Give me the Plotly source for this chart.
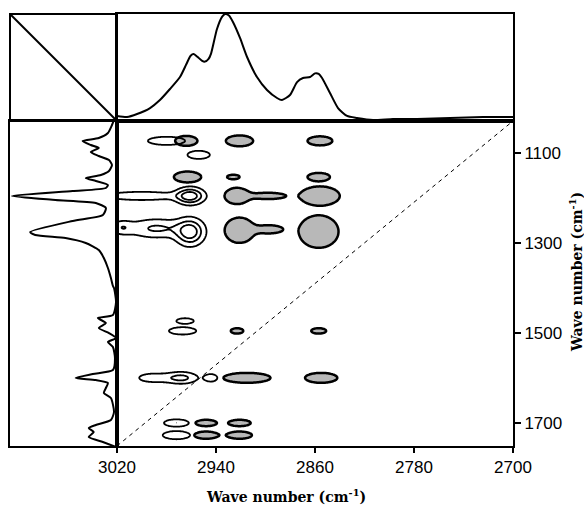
import numpy as np
import plotly.graph_objects as go

W, H = 584, 506

# ---------------- axes ----------------
x_range = [3020, 2700]
y_range = [1750, 1030]          # 1030 at the top
x_ticks = [3020, 2940, 2860, 2780, 2700]
y_ticks = [1100, 1300, 1500, 1700]

# ---------------- top spectrum ----------------
top_wn = [3020, 3011.9, 3003.8, 2993.3, 2985.3, 2977.2, 2969.1, 2964.0, 2960.5, 2958.0,
          2955.0, 2951.5, 2948.9, 2946.0, 2944.0, 2939.2, 2935.0, 2932.7, 2929.5, 2926.3,
          2920.6, 2914.9, 2906.9, 2898.8, 2890.7, 2886.7, 2880.2, 2874.5, 2869.7, 2864.0,
          2860.0, 2857.0, 2854.3, 2847.9, 2841.4, 2834.1, 2826.1, 2813.1, 2797.0, 2777.6,
          2750.9, 2724.2, 2700]
top_abs = [0.047, 0.037, 0.065, 0.121, 0.196, 0.299, 0.411, 0.530, 0.610, 0.626,
           0.600, 0.565, 0.555, 0.580, 0.630, 0.860, 0.975, 1.000, 0.985, 0.925,
           0.776, 0.598, 0.411, 0.290, 0.215, 0.196, 0.243, 0.364, 0.402, 0.411,
           0.445, 0.440, 0.402, 0.262, 0.121, 0.047, 0.028, 0.009, 0.019, 0.019,
           0.028, 0.037, 0.037]

# ---------------- left spectrum ----------------
left_wn = [1027.8, 1038.9, 1056.6, 1067.7, 1074.3, 1083.2, 1089.8, 1098.7, 1107.5, 1116.4,
           1127.5, 1140.8, 1149.6, 1156.3, 1162.9, 1171.8, 1178.4, 1185.1, 1196.2, 1205.0,
           1211.7, 1222.7, 1238.3, 1251.5, 1275.9, 1282.6, 1289.2, 1300.3, 1315.8, 1333.5,
           1355.7, 1377.8, 1395.5, 1400.0, 1431.0, 1459.8, 1466.4, 1477.5, 1488.6, 1499.7,
           1510.8, 1519.6, 1530.7, 1555.1, 1581.6, 1590.5, 1599.4, 1603.8, 1610.4, 1621.5,
           1632.6, 1643.7, 1674.7, 1692.4, 1703.5, 1710.2, 1719.0, 1730.1, 1741.2, 1752.2]
left_abs = [0.028, 0.047, 0.085, 0.170, 0.321, 0.245, 0.170, 0.245, 0.170, 0.075,
            0.047, 0.075, 0.151, 0.292, 0.198, 0.085, 0.104, 0.415, 0.981, 0.575,
            0.198, 0.104, 0.132, 0.415, 0.811, 0.764, 0.481, 0.292, 0.170, 0.123,
            0.085, 0.057, 0.038, 0.028, 0.009, 0.038, 0.179, 0.104, 0.170, 0.075,
            0.009, 0.085, 0.038, 0.019, 0.038, 0.226, 0.387, 0.198, 0.085, 0.104,
            0.123, 0.057, 0.028, 0.057, 0.198, 0.264, 0.217, 0.264, 0.132, 0.009]

# ---------------- cross peaks (cm-1) ----------------
# open (unshaded) cross peaks
open_x  = [2980, 2954, 2961, 3000, 2961, 2988, 3016, 2965, 2967, 2968, 2991, 2944, 2972, 2972]
open_y  = [1074, 1105, 1196, 1196, 1276, 1268, 1266, 1473, 1495, 1599, 1599, 1599, 1699, 1726]
open_hx = [15,   9,    13,   28,   13,   22,   7,    7,    11,   13,   11,   5,    10,   11]
open_hy = [9,    9,    21,   9,    33,   20,   12,   6,    8,    13,   9,    8,    8,    9]
open_a  = [0.45, 0.45, 1.0,  0.45, 1.0,  0.55, 0.4,  0.4,  0.45, 0.6,  0.4,  0.4,  0.5,  0.5]

# shaded cross peaks
shade_x  = [2964, 2921, 2856, 2963, 2926, 2857, 2923, 2898, 2856, 2921, 2897, 2857,
            2923, 2857, 2915, 2855, 2948, 2921, 2948, 2921]
shade_y  = [1074, 1074, 1074, 1154, 1154, 1154, 1196, 1196, 1196, 1272, 1270, 1275,
            1495, 1495, 1599, 1599, 1699, 1699, 1726, 1726]
shade_hx = [9,    11,   10,   11,   5,    9,    10,   14,   16,   12,   11,   16,
            5,    6,    19,   13,   8.5,  9,    9.5,  10]
shade_hy = [11,   12,   10,   12,   5,    9,    18,   7,    21,   28,   9,    36,
            6,    6,    11,   11,   7,    7,    8,    8]
shade_a  = [0.6,  0.6,  0.6,  0.6,  0.4,  0.5,  0.7,  0.4,  0.8,  0.8,  0.4,  0.9,
            0.4,  0.4,  0.6,  0.6,  0.5,  0.5,  0.5,  0.5]

L0 = 0.2  # outermost contour level
gx = np.arange(3020, 2699, -0.8)
gy = np.arange(1030, 1751, 1.5)
GX, GY = np.meshgrid(gx, gy)


def field(xs, ys, hxs, hys, amps):
    z = np.zeros_like(GX)
    for x0, y0, hx, hy, a in zip(xs, ys, hxs, hys, amps):
        k = np.sqrt(2 * np.log(a / L0))
        sx, sy = hx / k, hy / k
        z += a * np.exp(-0.5 * (((GX - x0) / sx) ** 2 + ((GY - y0) / sy) ** 2))
    return z


z_open = field(open_x, open_y, open_hx, open_hy, open_a)
z_shade = field(shade_x, shade_y, shade_hx, shade_hy, shade_a)

fig = go.Figure()

fig.add_trace(go.Contour(
    x=gx, y=gy, z=z_shade, xaxis="x", yaxis="y",
    autocontour=False,
    contours=dict(start=0.2, end=0.2, size=0.1, coloring="fill"),
    colorscale=[[0, "white"], [0.5, "white"], [0.5, "#b8b8b8"], [1, "#b8b8b8"]],
    line=dict(color="black", width=2.5, smoothing=1),
    showscale=False, hoverinfo="skip"))

fig.add_trace(go.Contour(
    x=gx, y=gy, z=z_open, xaxis="x", yaxis="y",
    autocontour=False,
    contours=dict(start=0.2, end=0.8, size=0.3, coloring="none"),
    line=dict(color="black", width=1.8, smoothing=1),
    showscale=False, hoverinfo="skip"))

fig.add_trace(go.Scatter(
    x=top_wn, y=top_abs, xaxis="x2", yaxis="y2", mode="lines",
    line=dict(color="black", width=2, shape="spline", smoothing=0.6),
    hoverinfo="skip"))

fig.add_trace(go.Scatter(
    x=left_abs, y=left_wn, xaxis="x3", yaxis="y3", mode="lines",
    line=dict(color="black", width=2, shape="spline", smoothing=0.6),
    hoverinfo="skip"))

px_x = lambda p: p / W
px_y = lambda p: 1 - p / H

map_xd = [px_x(117), px_x(513)]
map_yd = [px_y(446), px_y(121)]
top_yd = [px_y(121), px_y(14)]
left_xd = [px_x(10), px_x(117)]

tickfont = dict(family="Liberation Sans, Arial, sans-serif", size=17, color="black")
base = dict(showgrid=False, zeroline=False, showline=True, mirror=True,
            linecolor="black", linewidth=2, automargin=False)

fig.update_layout(
    width=W, height=H,
    margin=dict(l=0, r=0, t=0, b=0, pad=0, autoexpand=False),
    paper_bgcolor="white", plot_bgcolor="white",
    showlegend=False,
    xaxis=dict(domain=map_xd, range=x_range, anchor="y", tickvals=x_ticks,
               ticks="outside", ticklen=5, tickwidth=1.5, tickcolor="black",
               tickfont=tickfont, **base),
    yaxis=dict(domain=map_yd, range=y_range, anchor="x", side="right", tickvals=y_ticks,
               ticks="outside", ticklen=6, tickwidth=1.5, tickcolor="black",
               tickfont=tickfont, **base),
    xaxis2=dict(domain=map_xd, range=x_range, anchor="y2", showticklabels=False,
                ticks="", **base),
    yaxis2=dict(domain=top_yd, range=[0, 1.0], anchor="x2", showticklabels=False,
                ticks="", **base),
    xaxis3=dict(domain=left_xd, range=[1.0, 0], anchor="y3", showticklabels=False,
                ticks="", **base),
    yaxis3=dict(domain=map_yd, range=y_range, anchor="x3", showticklabels=False,
                ticks="", **base),
)

# top-left corner box with its diagonal
fig.add_shape(type="rect", xref="paper", yref="paper",
              x0=left_xd[0], x1=left_xd[1], y0=top_yd[0], y1=top_yd[1],
              line=dict(color="black", width=2))
fig.add_shape(type="line", xref="paper", yref="paper",
              x0=left_xd[0], y0=top_yd[1], x1=left_xd[1], y1=top_yd[0],
              line=dict(color="black", width=2))
# dashed diagonal of the map
fig.add_shape(type="line", xref="x", yref="y",
              x0=x_range[0], y0=y_range[0], x1=x_range[1], y1=y_range[1],
              line=dict(color="black", width=1, dash="4px,4px"))

titlefont = dict(family="DejaVu Serif, serif", size=14, color="black")
fig.add_annotation(text="<b>Wave number (cm<sup>-1</sup>)</b>", xref="paper", yref="paper",
                   x=px_x(286), y=px_y(496), xanchor="center", yanchor="middle",
                   showarrow=False, font=titlefont)
fig.add_annotation(text="<b>Wave number (cm<sup>-1</sup>)</b>", xref="paper", yref="paper",
                   x=px_x(576), y=px_y(272), xanchor="center", yanchor="middle",
                   textangle=-90, showarrow=False, font=titlefont)

fig.write_html("out.html")
